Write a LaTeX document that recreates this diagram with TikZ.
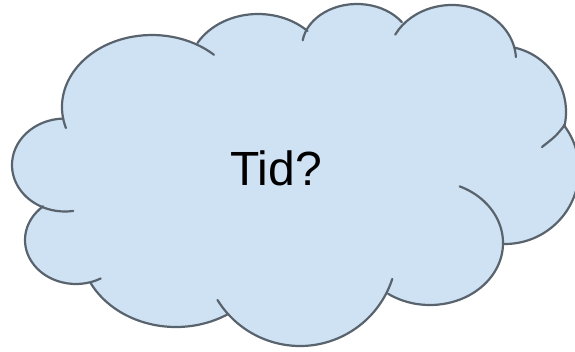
\documentclass[tikz,border=0pt]{standalone}
\usepackage{fontspec}
\setmainfont{Liberation Sans}
\definecolor{cloudblue}{RGB}{207,226,243}
\definecolor{cloudedge}{RGB}{89,99,109}
\tikzset{
  lobe/.style={draw=cloudedge, line width=2.2pt, line cap=round, line join=round},
}
\begin{document}
\begin{tikzpicture}[x=1pt,y=-1pt]
    \useasboundingbox (0,0) rectangle (575,351);
    \clip (0,0) rectangle (575,351);

    % Define the centres of the lobes
    \coordinate (cA) at (152,107);
    \coordinate (cB) at (258,72);
    \coordinate (cC) at (357,47);
    \coordinate (cD) at (452,60);
    \coordinate (cE) at (500,112);
    \coordinate (cF) at (505,170);
    \coordinate (cG) at (430,243);
    \coordinate (cH) at (300,249);
    \coordinate (cI) at (176,246);
    \coordinate (cJ) at (76,240);
    \coordinate (cK) at (65,165);

    % Fill the cloud
    \fill[cloudblue]
      ([shift={(171:90 and 72)}]cA) arc[start angle=171, end angle=299, x radius=90, y radius=72]
      -- ([shift={(210:70 and 58)}]cB) arc[start angle=210, end angle=315, x radius=70, y radius=58]
      -- ([shift={(200.4:55 and 43)}]cC) arc[start angle=200.4, end angle=324.5, x radius=55, y radius=43]
      -- ([shift={(221.5:64 and 55)}]cD) arc[start angle=221.5, end angle=347.4, x radius=64, y radius=55]
      -- ([shift={(283:66)}]cE) arc[start angle=283, end angle=371.4, radius=66]
      -- ([shift={(-37.4:74)}]cF) arc[start angle=-37.4, end angle=91.5, radius=74]
      -- ([shift={(0:73 and 62)}]cG) arc[start angle=0, end angle=125, x radius=73, y radius=62]
      -- ([shift={(28.3:97)}]cH) arc[start angle=28.3, end angle=138, radius=97]
      -- ([shift={(57:96 and 81)}]cI) arc[start angle=57, end angle=153, x radius=96, y radius=81]
      -- ([shift={(77:51 and 44)}]cJ) arc[start angle=77, end angle=230, x radius=51, y radius=44]
      -- ([shift={(119:53 and 46.5)}]cK) arc[start angle=119, end angle=268, x radius=53, y radius=46.5]
      -- cycle;

    % Draw the lobes, with their inner tails
    \draw[lobe] ([shift={(163:90 and 72)}]cA) arc[start angle=163, end angle=313.5, x radius=90, y radius=72];
    \draw[lobe] ([shift={(210:70 and 58)}]cB) arc[start angle=210, end angle=315, x radius=70, y radius=58];
    \draw[lobe] ([shift={(189:55 and 43)}]cC) arc[start angle=189, end angle=324.5, x radius=55, y radius=43];
    \draw[lobe] ([shift={(207.5:64 and 55)}]cD) arc[start angle=207.5, end angle=357, x radius=64, y radius=55];
    \draw[lobe] ([shift={(283:66)}]cE) arc[start angle=283, end angle=371.4, radius=66]
      .. controls (556,136) .. (542,147);
    \draw[lobe] ([shift={(-37.4:74)}]cF) arc[start angle=-37.4, end angle=91.5, radius=74];
    \draw[lobe] ([shift={(-66:73 and 62)}]cG) arc[start angle=-66, end angle=125, x radius=73, y radius=62];
    \draw[lobe] ([shift={(148.3:97)}]cH) arc[start angle=148.3, end angle=18, radius=97];
    \draw[lobe] ([shift={(57:96 and 81)}]cI) arc[start angle=57, end angle=153, x radius=96, y radius=81];
    \draw[lobe] ([shift={(61:51 and 44)}]cJ) arc[start angle=61, end angle=230, x radius=51, y radius=44];
    \draw[lobe] ([shift={(268:53 and 46.5)}]cK) arc[start angle=268, end angle=81, x radius=53, y radius=46.5];

    % Add the label
    \node[font=\fontsize{48}{58}\selectfont, anchor=base] (tid) at (276,185) {Tid?};

\end{tikzpicture}
\end{document}
